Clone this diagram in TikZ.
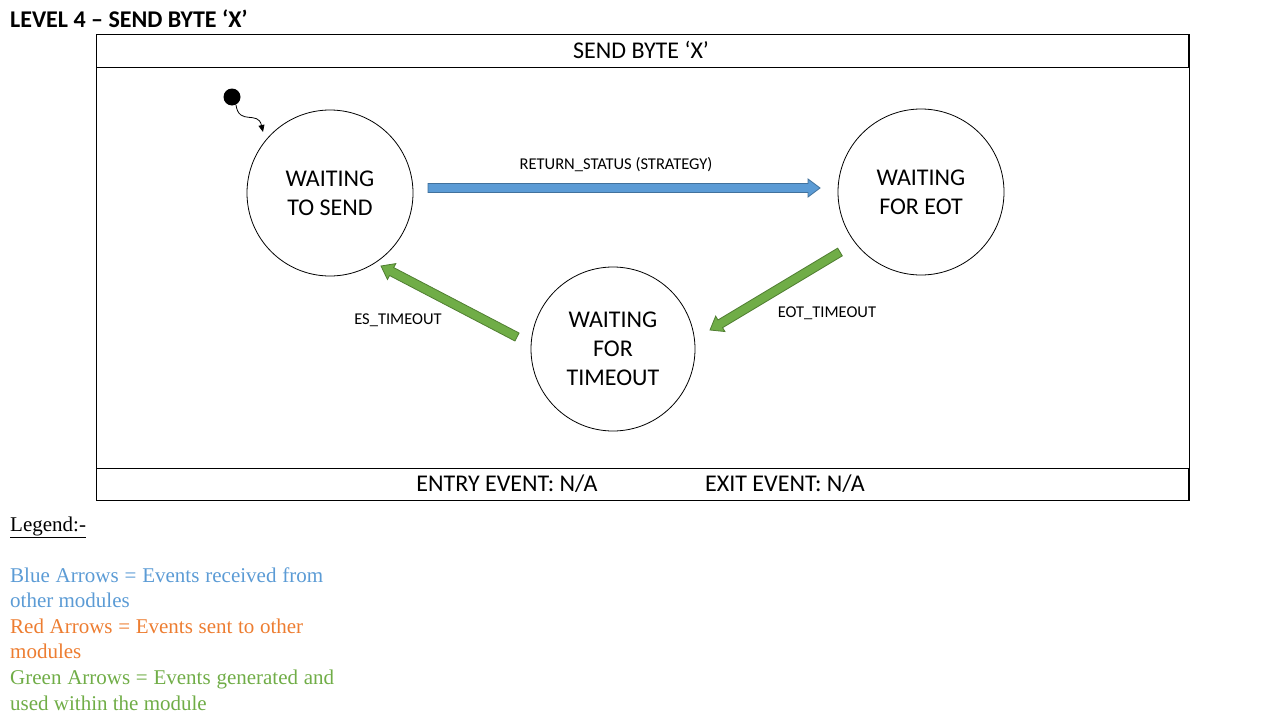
\documentclass[tikz,border=0pt]{standalone}
\usepackage{fontspec}
\setmainfont{Carlito}
\newfontfamily\legendfont{Liberation Serif}
\usetikzlibrary{calc,arrows.meta}
\definecolor{bluefill}{HTML}{5B9BD5}
\definecolor{blueline}{HTML}{41719C}
\definecolor{greenfill}{HTML}{70AD47}
\definecolor{greenline}{HTML}{507E32}
\definecolor{legblue}{HTML}{5B9BD5}
\definecolor{legorange}{HTML}{ED7D31}
\definecolor{leggreen}{HTML}{70AD47}
\newcommand\fatarrow[4]{%
  \path coordinate (fa-p) at ($(#2)!12pt!(#1)$);
  \filldraw[fill=#3,draw=#4,line width=0.8pt,line join=miter]
    ($(#1)!4.5pt!-90:(#2)$) -- ($(fa-p)!4.5pt!90:(#1)$) -- ($(fa-p)!9pt!90:(#1)$)
    -- (#2) -- ($(fa-p)!9pt!-90:(#1)$) -- ($(fa-p)!4.5pt!-90:(#1)$)
    -- ($(#1)!4.5pt!90:(#2)$) -- cycle;}
\tikzset{
  state/.style={circle,draw,line width=0.8pt,minimum size=166pt,inner sep=0pt,align=center,
    font=\fontsize{24}{29}\selectfont},
  frame/.style={draw,line width=1pt},
  biglabel/.style={font=\fontsize{24}{29}\selectfont,inner sep=0pt},
  small/.style={font=\fontsize{16.5}{20}\selectfont,inner sep=0pt},
  legline/.style={anchor=base west,inner sep=0pt,font=\legendfont\fontsize{21}{25}\selectfont},
}
\begin{document}
\begin{tikzpicture}[x=1pt,y=-1pt]
\useasboundingbox (0,0) rectangle (1280,720);
% title
\node[anchor=west,inner sep=0pt,font=\bfseries\fontsize{24}{29}\selectfont] (title) at (10,19) {LEVEL 4 -- SEND BYTE ‘X’};
% frame
\draw[frame] (96,34) rectangle (1189,67);
\draw[frame] (96,67) rectangle (1189,468);
\draw[frame] (96,468) rectangle (1189,500);
\draw[line width=2pt] (1189,34) -- (1189,67);
\draw[line width=2pt] (1189,468) -- (1189,500);
\node[biglabel] (head) at (641,50) {SEND BYTE ‘X’};
\node[biglabel] (entry) at (507,484) {ENTRY EVENT: N/A};
\node[biglabel] (exit) at (785,484) {EXIT EVENT: N/A};
% states
\node[state] (wts) at (330,193) {WAITING\\TO SEND};
\node[state] (wfe) at (921,192) {WAITING\\FOR EOT};
\node[state,minimum size=164pt] (wft) at (613,349) {WAITING\\FOR\\TIMEOUT};
% initial
\fill (232,97) circle (8.5pt);
\coordinate (init) at (232,97);
\coordinate (inittip) at (263,132);
\draw[line width=0.8pt,-{Triangle[length=7pt,width=6pt]}] (init) ++(4,8) .. controls (239,126) and (258,110) .. (inittip);
% arrows
\coordinate (b1) at (428,188);
\coordinate (b2) at (820,188);
\fatarrow{b1}{b2}{bluefill}{blueline}
\coordinate (g1) at (840,252);
\coordinate (g2) at (710,330);
\fatarrow{g1}{g2}{greenfill}{greenline}
\coordinate (g3) at (517,337);
\coordinate (g4) at (381,266);
\fatarrow{g3}{g4}{greenfill}{greenline}
\node[small] (l1) at (616,165) {RETURN\_STATUS (STRATEGY)};
\node[small] (l2) at (827,313) {EOT\_TIMEOUT};
\node[small] (l3) at (398,320) {ES\_TIMEOUT};
% legend
\node[legline] (leg) at (10,531) {\underline{Legend:-}};
\node[legline,text=legblue] (lb1) at (10,582) {\makebox[313pt][s]{Blue Arrows = Events received from}};
\node[legline,text=legblue] (lb2) at (10,607) {other modules};
\node[legline,text=legorange] (lr1) at (10,633) {\makebox[293pt][s]{Red Arrows = Events sent to other}};
\node[legline,text=legorange] (lr2) at (10,658) {modules};
\node[legline,text=leggreen] (lg1) at (10,684) {\makebox[324pt][s]{Green Arrows = Events generated and}};
\node[legline,text=leggreen] (lg2) at (10,710) {used within the module};
\end{tikzpicture}
\end{document}
